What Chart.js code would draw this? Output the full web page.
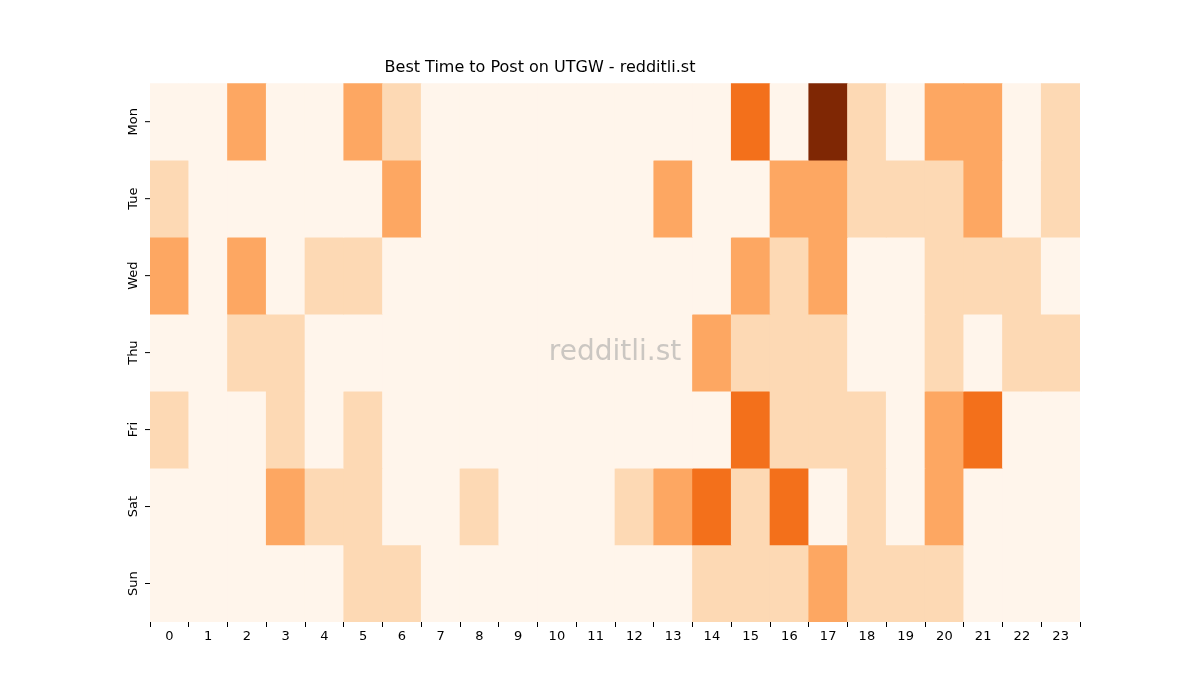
<!DOCTYPE html>
<html>
<head>
<meta charset="UTF-8">
<title>Best Time to Post</title>
<script src="https://cdn.jsdelivr.net/npm/chart.js"></script>
<style>body{margin:0;background:#fff}</style>
</head>
<body>
<canvas id="heat" width="1200" height="700"></canvas>
<script>
const hours = ['0','1','2','3','4','5','6','7','8','9','10','11','12','13','14','15','16','17','18','19','20','21','22','23'];
const days = ['Mon','Tue','Wed','Thu','Fri','Sat','Sun'];
// intensity level per hour (0 = lowest, 4 = highest)
const mon = [0,0,2,0,0,2,1,0,0,0,0,0,0,0,0,3,0,4,1,0,2,2,0,1];
const tue = [1,0,0,0,0,0,2,0,0,0,0,0,0,2,0,0,2,2,1,1,1,2,0,1];
const wed = [2,0,2,0,1,1,0,0,0,0,0,0,0,0,0,2,1,2,0,0,1,1,1,0];
const thu = [0,0,1,1,0,0,0,0,0,0,0,0,0,0,2,1,1,1,0,0,1,0,1,1];
const fri = [1,0,0,1,0,1,0,0,0,0,0,0,0,0,0,3,1,1,1,0,2,3,0,0];
const sat = [0,0,0,2,1,1,0,0,1,0,0,0,1,2,3,1,3,0,1,0,2,0,0,0];
const sun = [0,0,0,0,0,1,1,0,0,0,0,0,0,0,1,1,1,2,1,1,1,0,0,0];
const palette = ['#fff5eb','#fdd9b4','#fda762','#f3701b','#7f2704'];

const rows = [mon, tue, wed, thu, fri, sat, sun];

const yLabels = {
    id: 'yLabels',
    afterDraw(chart) {
        const ctx = chart.ctx, y = chart.scales.y, left = chart.chartArea.left;
        ctx.save();
        ctx.fillStyle = '#000';
        ctx.strokeStyle = '#000';
        ctx.font = '13px "DejaVu Sans"';
        ctx.textAlign = 'center';
        ctx.textBaseline = 'middle';
        days.forEach((d, i) => {
            const py = y.getPixelForValue(i + 0.5);
            ctx.beginPath();
            ctx.moveTo(left - 5, py);
            ctx.lineTo(left, py);
            ctx.stroke();
            ctx.save();
            ctx.translate(left - 16, py);
            ctx.rotate(-Math.PI / 2);
            ctx.fillText(d, 0, 0);
            ctx.restore();
        });
        const a = chart.chartArea;
        ctx.fillStyle = 'rgba(160,160,160,0.55)';
        ctx.font = '28px "DejaVu Sans"';
        ctx.fillText('redditli.st', (a.left + a.right) / 2, (a.top + a.bottom) / 2);
        ctx.restore();
    }
};

new Chart(document.getElementById('heat'), {
    type: 'bar',
    data: {
        labels: hours,
        datasets: rows.map((r, i) => ({
            label: days[i],
            data: r.map(() => 1),
            backgroundColor: r.map(v => palette[v]),
            borderWidth: 0,
            barPercentage: 1,
            categoryPercentage: 1
        }))
    },
    options: {
        responsive: false,
        animation: false,
        layout: { padding: { right: 120 } },
        plugins: {
            legend: { display: false },
            tooltip: { enabled: false },
            title: {
                display: true,
                text: 'Best Time to Post on UTGW - redditli.st',
                color: '#000',
                font: { family: 'DejaVu Sans', size: 16, weight: 'normal' },
                padding: { top: 58, bottom: 6 }
            }
        },
        scales: {
            x: {
                stacked: true,
                grid: { drawOnChartArea: false, tickLength: 5, color: '#000' },
                border: { display: false },
                ticks: { color: '#000', font: { family: 'DejaVu Sans', size: 13 }, maxRotation: 0, padding: 2 },
                afterFit(s) { s.height = 78; }
            },
            y: {
                stacked: true,
                reverse: true,
                min: 0,
                max: 7,
                grid: { display: false },
                border: { display: false },
                ticks: { display: false },
                afterFit(s) { s.width = 150; }
            }
        }
    },
    plugins: [yLabels]
});
</script>
</body>
</html>
